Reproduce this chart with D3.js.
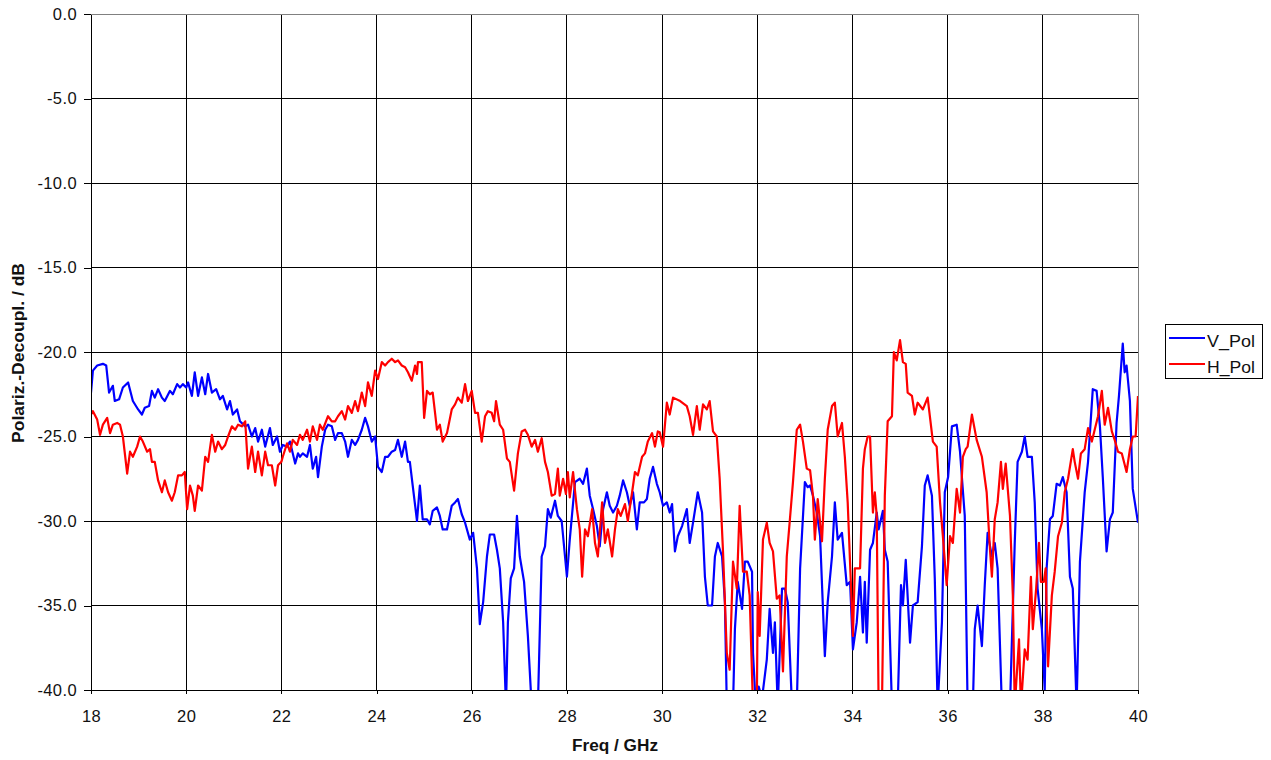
<!DOCTYPE html>
<html>
<head>
<meta charset="utf-8">
<script src="https://d3js.org/d3.v7.min.js"></script>
<style>
body { margin: 0; background: #fff; }
.axis text { font-family: "Liberation Sans", Arial, sans-serif; font-size: 16.5px; letter-spacing: 0.4px; fill: #111; }
.axis path, .axis line { stroke: #000; shape-rendering: crispEdges; }
.grid line { stroke: #000; stroke-width: 1px; shape-rendering: crispEdges; }
.title { font-family: "Liberation Sans", Arial, sans-serif; font-size: 16px; font-weight: bold; fill: #111; }
.legend text { font-family: "Liberation Sans", Arial, sans-serif; font-size: 17px; fill: #111; }
</style>
</head>
<body>
<div id="chart"></div>
<script>
// series: frequency (GHz) and decoupling (dB)
var vFreq = [18.00,18.04,18.13,18.25,18.32,18.38,18.46,18.50,18.59,18.67,18.78,18.88,18.99,19.07,19.13,19.22,19.28,19.34,19.41,19.49,19.55,19.66,19.72,19.81,19.87,19.93,20.00,20.04,20.12,20.18,20.25,20.33,20.40,20.46,20.54,20.63,20.71,20.77,20.86,20.92,20.98,21.07,21.13,21.24,21.30,21.38,21.45,21.51,21.59,21.66,21.76,21.82,21.91,21.97,22.03,22.12,22.18,22.29,22.35,22.39,22.45,22.54,22.60,22.66,22.73,22.77,22.85,22.92,22.98,23.06,23.13,23.19,23.27,23.34,23.40,23.48,23.55,23.61,23.69,23.76,23.82,23.90,23.97,24.03,24.11,24.18,24.24,24.32,24.39,24.45,24.53,24.60,24.66,24.70,24.76,24.85,24.91,24.97,25.06,25.12,25.18,25.27,25.33,25.39,25.48,25.58,25.65,25.71,25.79,25.86,25.96,26.03,26.11,26.17,26.24,26.32,26.38,26.47,26.53,26.59,26.66,26.72,26.76,26.82,26.89,26.95,27.01,27.10,27.18,27.26,27.39,27.47,27.54,27.60,27.66,27.75,27.81,27.89,28.00,28.06,28.17,28.27,28.34,28.42,28.48,28.55,28.63,28.69,28.76,28.84,28.90,28.97,29.05,29.11,29.18,29.26,29.32,29.39,29.47,29.53,29.62,29.68,29.74,29.81,29.89,29.95,30.02,30.10,30.16,30.21,30.27,30.33,30.42,30.52,30.58,30.65,30.75,30.84,30.90,30.96,31.05,31.11,31.17,31.26,31.32,31.36,31.49,31.53,31.59,31.68,31.74,31.80,31.89,31.91,31.97,32.03,32.10,32.20,32.26,32.33,32.37,32.43,32.52,32.58,32.64,32.73,32.83,32.90,33.00,33.06,33.11,33.17,33.25,33.32,33.42,33.48,33.57,33.63,33.69,33.78,33.88,33.95,34.01,34.09,34.16,34.22,34.26,34.30,34.37,34.43,34.51,34.55,34.64,34.68,34.74,34.83,34.95,35.02,35.06,35.12,35.21,35.27,35.37,35.46,35.52,35.58,35.67,35.73,35.79,35.88,35.94,36.01,36.09,36.19,36.26,36.36,36.42,36.53,36.57,36.63,36.72,36.78,36.84,36.93,36.99,37.05,37.14,37.31,37.41,37.47,37.56,37.62,37.68,37.77,37.83,37.89,37.98,38.04,38.08,38.15,38.21,38.29,38.36,38.42,38.50,38.57,38.63,38.71,38.78,38.88,38.95,39.05,39.13,39.20,39.26,39.34,39.41,39.47,39.55,39.60,39.68,39.72,39.76,39.83,39.89,40.00];
var vDb = [-22.4,-21.1,-20.8,-20.7,-20.8,-22.4,-22.0,-22.9,-22.8,-22.1,-21.8,-22.9,-23.4,-23.7,-23.3,-23.2,-22.3,-22.7,-22.2,-22.7,-22.9,-22.3,-22.5,-21.9,-22.1,-21.9,-22.1,-21.8,-22.6,-21.2,-22.6,-21.5,-22.5,-21.3,-22.4,-22.2,-22.8,-22.6,-23.4,-22.9,-23.7,-23.4,-24.1,-24.4,-24.3,-25.0,-24.5,-25.3,-24.6,-25.6,-24.5,-25.5,-25.0,-25.9,-25.5,-25.6,-25.3,-26.6,-26.0,-26.2,-26.0,-26.2,-25.5,-26.9,-26.2,-27.4,-25.6,-24.6,-24.3,-24.4,-25.2,-24.8,-24.8,-25.3,-26.2,-25.2,-25.5,-25.2,-24.6,-23.9,-24.4,-25.3,-25.0,-26.8,-27.1,-26.2,-26.2,-25.9,-25.8,-25.2,-26.2,-25.3,-26.5,-26.5,-27.9,-30.0,-27.9,-29.9,-29.9,-30.2,-29.4,-29.2,-29.7,-30.5,-30.5,-29.1,-28.9,-28.7,-29.6,-30.1,-31.1,-30.7,-32.8,-36.1,-34.8,-32.1,-30.8,-30.8,-31.7,-32.8,-36.0,-41,-36.0,-33.4,-32.8,-29.7,-32.1,-33.6,-36.8,-41,-41,-32.1,-31.5,-29.3,-29.8,-28.8,-29.7,-30.0,-33.3,-31.1,-27.7,-27.5,-27.8,-26.9,-28.5,-29.3,-30.3,-31.5,-29.3,-28.3,-29.1,-29.5,-29.1,-28.5,-27.6,-28.3,-29.1,-28.3,-30.5,-28.9,-28.9,-28.7,-27.5,-26.8,-27.8,-28.3,-29.1,-28.9,-29.5,-29.0,-31.8,-30.9,-30.3,-29.3,-31.3,-30.1,-28.3,-29.5,-33.3,-35.0,-35.0,-32.1,-31.3,-32.1,-34.8,-41,-41,-36.4,-33.6,-35.2,-32.4,-32.4,-33.0,-37.8,-41,-39.8,-40.5,-38.2,-35.2,-37.8,-36.0,-41,-34.0,-34.0,-34.8,-41,-41,-32.8,-27.7,-28.0,-27.9,-28.5,-29.5,-30.9,-38.0,-34.8,-32.1,-28.9,-31.1,-30.7,-33.8,-33.6,-37.6,-36.0,-33.3,-36.6,-33.6,-37.2,-31.7,-31.3,-29.5,-30.5,-29.4,-31.7,-32.4,-41,-41,-33.8,-35.0,-32.3,-37.2,-35.0,-34.8,-31.5,-27.9,-27.3,-28.5,-33.4,-41,-36.0,-28.3,-27.4,-24.4,-24.3,-25.9,-29.7,-41,-41,-36.4,-35.0,-37.4,-33.8,-30.7,-32.1,-31.3,-32.8,-41,-41,-31.3,-26.5,-25.9,-25.0,-26.2,-26.2,-28.9,-34.0,-36.4,-40.0,-32.8,-29.9,-29.7,-27.8,-27.9,-27.4,-28.3,-33.3,-34.0,-41,-32.4,-28.3,-26.5,-22.2,-22.3,-24.4,-27.4,-31.8,-29.9,-29.5,-24.2,-22.6,-19.5,-21.2,-20.8,-22.9,-28.1,-30.1];

var hFreq = [18.00,18.04,18.13,18.19,18.25,18.34,18.40,18.46,18.55,18.61,18.67,18.76,18.82,18.88,18.97,19.03,19.09,19.18,19.24,19.28,19.34,19.41,19.49,19.55,19.62,19.70,19.76,19.83,19.91,19.97,20.02,20.08,20.14,20.18,20.25,20.33,20.40,20.46,20.54,20.61,20.67,20.75,20.82,20.88,20.96,21.03,21.09,21.17,21.24,21.30,21.38,21.45,21.51,21.59,21.66,21.72,21.80,21.87,21.93,22.00,22.03,22.12,22.18,22.24,22.33,22.39,22.45,22.54,22.60,22.66,22.75,22.81,22.87,22.98,23.06,23.13,23.19,23.27,23.34,23.40,23.48,23.55,23.61,23.69,23.76,23.82,23.90,23.97,24.03,24.11,24.18,24.24,24.32,24.39,24.45,24.53,24.60,24.66,24.74,24.81,24.85,24.87,24.95,25.00,25.06,25.12,25.18,25.27,25.33,25.39,25.48,25.58,25.65,25.71,25.79,25.86,25.92,26.00,26.07,26.13,26.21,26.28,26.34,26.42,26.47,26.51,26.59,26.66,26.74,26.80,26.89,26.97,27.05,27.12,27.18,27.26,27.33,27.39,27.47,27.54,27.60,27.68,27.75,27.81,27.85,27.92,27.98,28.02,28.06,28.13,28.21,28.27,28.32,28.38,28.44,28.53,28.59,28.65,28.74,28.80,28.86,28.95,29.01,29.07,29.13,29.22,29.28,29.37,29.43,29.49,29.58,29.64,29.70,29.79,29.85,29.91,29.95,30.02,30.10,30.16,30.23,30.38,30.52,30.58,30.65,30.73,30.79,30.86,30.94,31.00,31.07,31.15,31.21,31.28,31.36,31.42,31.49,31.57,31.63,31.70,31.78,31.84,31.91,31.99,32.01,32.05,32.12,32.20,32.26,32.33,32.41,32.47,32.54,32.62,32.68,32.75,32.83,32.90,32.96,33.04,33.11,33.17,33.21,33.27,33.36,33.42,33.48,33.57,33.63,33.69,33.78,33.84,33.90,34.01,34.05,34.16,34.22,34.26,34.32,34.37,34.43,34.47,34.51,34.55,34.62,34.68,34.74,34.83,34.87,34.93,35.00,35.06,35.12,35.16,35.25,35.31,35.37,35.48,35.58,35.69,35.77,35.84,35.90,35.98,36.05,36.11,36.19,36.26,36.32,36.38,36.42,36.51,36.61,36.72,36.82,36.89,36.93,36.99,37.05,37.12,37.16,37.22,37.31,37.37,37.41,37.50,37.54,37.62,37.68,37.75,37.79,37.86,37.92,37.96,38.02,38.06,38.11,38.19,38.25,38.32,38.40,38.46,38.53,38.63,38.67,38.74,38.80,38.88,38.95,39.03,39.09,39.16,39.24,39.30,39.37,39.45,39.51,39.58,39.66,39.76,39.83,39.89,39.95,40.00];
var hDb = [-23.7,-23.5,-24.0,-24.9,-24.3,-23.9,-24.8,-24.3,-24.2,-24.3,-25.0,-27.2,-25.9,-26.2,-25.6,-25.0,-25.3,-25.9,-25.75,-26.5,-26.5,-27.6,-28.3,-27.6,-28.3,-28.8,-28.3,-27.3,-27.3,-27.1,-29.3,-27.9,-28.5,-29.4,-27.9,-28.2,-26.2,-26.5,-24.9,-25.9,-25.3,-25.75,-25.5,-25.0,-24.4,-24.6,-24.3,-24.4,-24.1,-26.9,-25.6,-27.1,-25.9,-27.3,-25.9,-26.7,-26.7,-27.9,-26.7,-26.5,-26.2,-25.4,-25.9,-25.2,-25.5,-24.9,-25.2,-24.6,-25.3,-24.4,-25.2,-24.3,-24.6,-23.8,-24.1,-24.1,-23.8,-23.5,-24.0,-23.2,-23.6,-22.9,-23.5,-22.4,-23.2,-21.8,-22.6,-21.1,-21.6,-20.6,-20.8,-20.6,-20.4,-20.6,-20.5,-20.8,-20.9,-21.2,-21.7,-20.8,-21.3,-20.6,-20.6,-23.9,-22.3,-22.5,-22.4,-24.6,-24.3,-25.3,-24.8,-23.4,-23.1,-22.7,-23.0,-21.9,-22.9,-22.3,-23.6,-23.6,-25.3,-23.8,-23.5,-23.6,-24.1,-22.9,-24.3,-24.6,-26.3,-26.5,-28.2,-26.0,-24.7,-24.6,-24.9,-25.6,-25.2,-25.9,-25.1,-26.5,-27.1,-28.5,-28.4,-26.9,-28.5,-27.5,-28.4,-27.1,-28.6,-27.1,-29.3,-30.5,-33.3,-30.5,-30.9,-29.3,-31.3,-32.1,-28.9,-31.3,-30.5,-32.1,-30.5,-29.3,-29.7,-29.0,-30.0,-28.3,-27.1,-27.3,-26.2,-26.0,-25.3,-24.8,-25.6,-24.7,-24.75,-25.6,-23.0,-23.7,-22.7,-22.9,-23.2,-23.8,-24.9,-23.2,-24.6,-23.1,-23.4,-22.9,-24.7,-25.0,-27.5,-31.8,-37.8,-38.8,-32.4,-34.0,-29.1,-33.0,-33.0,-34.4,-41,-41,-34.2,-36.8,-31.1,-30.1,-31.3,-31.8,-34.6,-34.4,-38.9,-32.1,-30.1,-27.7,-24.6,-24.3,-25.3,-26.9,-27.0,-28.5,-31.1,-28.7,-31.2,-27.5,-24.6,-23.2,-23.0,-25.0,-24.2,-26.2,-28.9,-36.8,-32.8,-32.8,-26.9,-25.75,-25.0,-25.0,-29.5,-28.3,-29.7,-41,-41,-28.5,-24.1,-23.8,-20.0,-20.5,-19.3,-20.6,-20.7,-22.4,-22.6,-23.7,-23.0,-23.4,-22.7,-25.3,-25.6,-28.9,-30.9,-33.8,-30.9,-31.3,-28.1,-29.5,-26.2,-25.75,-25.6,-23.7,-25.2,-26.2,-28.3,-31.7,-33.3,-29.9,-28.9,-26.5,-28.1,-26.6,-29.7,-34.4,-41,-37.0,-41,-37.6,-38.2,-33.3,-36.4,-34.0,-31.3,-33.6,-33.6,-32.8,-38.6,-34.4,-33.0,-30.9,-30.1,-28.3,-27.5,-25.75,-26.5,-27.5,-26.0,-25.75,-24.5,-25.3,-24.6,-23.8,-22.3,-24.3,-23.3,-24.7,-25.2,-25.9,-26.0,-27.1,-25.75,-25.0,-25.0,-22.6];

var xTicks = [18, 20, 22, 24, 26, 28, 30, 32, 34, 36, 38, 40];
var yTicks = [0, -5, -10, -15, -20, -25, -30, -35, -40];
var seriesNames = ["V_Pol", "H_Pol"];
var seriesColors = ["#0000ff", "#ff0000"];

var W = 1271, H = 760;
var margin = {top: 14, right: 133, bottom: 70, left: 91},
    width = 1138 - margin.left,
    height = 690 - margin.top;

var svg = d3.select("#chart").append("svg")
    .attr("width", W)
    .attr("height", H);

var x = d3.scaleLinear().domain([18, 40]).range([0, width]);
var y = d3.scaleLinear().domain([-40, 0]).range([height, 0]);

var g = svg.append("g")
    .attr("transform", "translate(" + margin.left + "," + margin.top + ")");

svg.append("defs").append("clipPath")
    .attr("id", "plotclip")
  .append("rect")
    .attr("x", 0).attr("y", 0)
    .attr("width", width).attr("height", height);

// grid
g.append("g").attr("class", "grid")
  .selectAll("line.h")
  .data(yTicks.filter(function(d) { return d !== 0 && d !== -40; }))
  .enter().append("line")
    .attr("x1", 0).attr("x2", width)
    .attr("y1", function(d) { return y(d); })
    .attr("y2", function(d) { return y(d); });

g.append("g").attr("class", "grid")
  .selectAll("line.v")
  .data(xTicks.filter(function(d) { return d !== 18 && d !== 40; }))
  .enter().append("line")
    .attr("y1", 0).attr("y2", height)
    .attr("x1", function(d) { return x(d); })
    .attr("x2", function(d) { return x(d); });

// plot area border (top / right)
g.append("path")
    .attr("d", "M0,0.5H" + (width + 0.5) + "V" + height)
    .attr("fill", "none")
    .attr("stroke", "#808080")
    .attr("shape-rendering", "crispEdges");

// lines
var line = d3.line()
    .x(function(d) { return x(d[0]); })
    .y(function(d) { return y(d[1]); });

var series = [
  d3.zip(vFreq, vDb),
  d3.zip(hFreq, hDb)
];

g.append("g").attr("clip-path", "url(#plotclip)")
  .selectAll("path.series")
  .data(series)
  .enter().append("path")
    .attr("class", "series")
    .attr("fill", "none")
    .attr("stroke", function(d, i) { return seriesColors[i]; })
    .attr("stroke-width", 2.2)
    .attr("stroke-linejoin", "round")
    .attr("d", line);

// axes
g.append("g")
    .attr("class", "axis axis--x")
    .attr("transform", "translate(0," + height + ")")
    .call(d3.axisBottom(x).tickValues(xTicks).tickSizeInner(4).tickSizeOuter(0).tickPadding(16).tickFormat(function(d) { return d; }));

// plain hyphen minus like the original, not the unicode minus
g.append("g")
    .attr("class", "axis axis--y")
    .call(d3.axisLeft(y).tickValues(yTicks).tickSizeInner(7).tickSizeOuter(0).tickPadding(7).tickFormat(function(d) { return d.toFixed(1); }));

// axis titles
svg.append("text")
    .attr("class", "title")
    .attr("x", 572)
    .attr("y", 751)
    .attr("textLength", 86)
    .attr("lengthAdjust", "spacingAndGlyphs")
    .text("Freq / GHz");

svg.append("text")
    .attr("class", "title")
    .attr("transform", "translate(24,443) rotate(-90)")
    .attr("textLength", 180)
    .attr("lengthAdjust", "spacingAndGlyphs")
    .text("Polariz.-Decoupl. / dB");

// legend
var legend = svg.append("g").attr("class", "legend")
    .attr("transform", "translate(1165,324)");

legend.append("rect")
    .attr("width", 97).attr("height", 54)
    .attr("fill", "#fff").attr("stroke", "#000")
    .attr("shape-rendering", "crispEdges");

var item = legend.selectAll("g.item")
    .data(seriesNames)
  .enter().append("g")
    .attr("class", "item")
    .attr("transform", function(d, i) { return "translate(0," + (14 + i * 26) + ")"; });

item.append("line")
    .attr("x1", 4).attr("x2", 40)
    .attr("stroke", function(d, i) { return seriesColors[i]; })
    .attr("stroke-width", 2.2);

item.append("text")
    .attr("x", 42).attr("y", 9)
    .attr("textLength", 48)
    .attr("lengthAdjust", "spacingAndGlyphs")
    .text(function(d) { return d; });
</script>
</body>
</html>
